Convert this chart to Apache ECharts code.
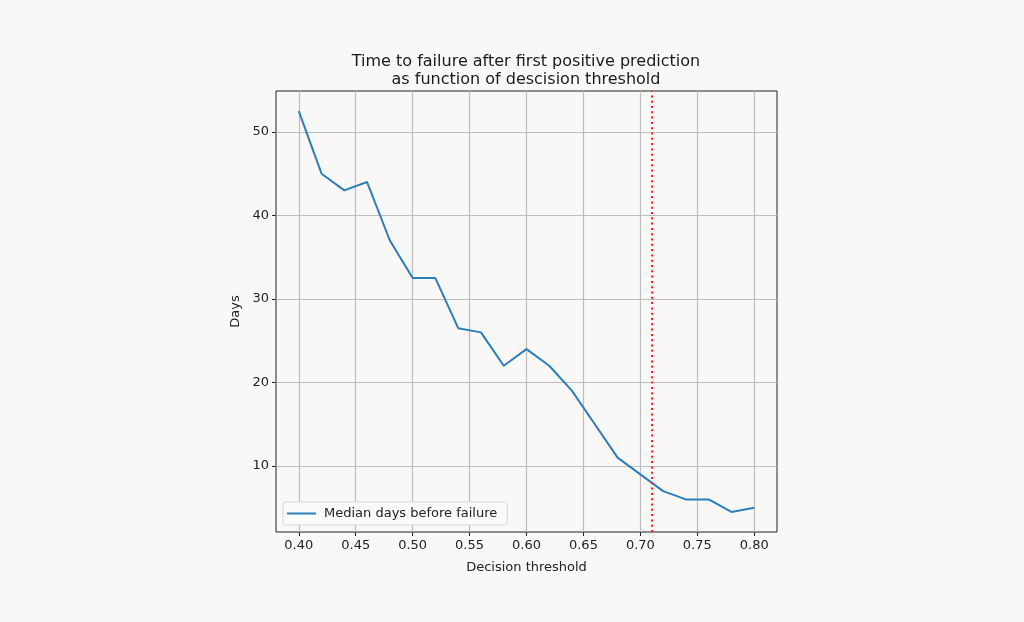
<!DOCTYPE html>
<html>
<head>
<meta charset="utf-8">
<script src="https://cdn.jsdelivr.net/npm/echarts@6/dist/echarts.min.js"></script>
<style>
html,body{margin:0;padding:0;background:#f9f8f6;}
#chart{width:1024px;height:622px;}
</style>
</head>
<body>
<div id="chart"></div>
<script>
const thresholds = [0.40,0.42,0.44,0.46,0.48,0.50,0.52,0.54,0.56,0.58,0.60,0.62,0.64,0.66,0.68,0.70,0.72,0.74,0.76,0.78,0.80];
const medianDays = [52.5,45,43,44,37,32.5,32.5,26.5,26,22,24,22,19,15,11,9,7,6,6,4.5,5];
const xTicks = [0.40,0.45,0.50,0.55,0.60,0.65,0.70,0.75,0.80];
const yTicks = [10,20,30,40,50];
const decisionLine = [0.71];
const seriesName = 'Median days before failure';

const font = 'DejaVu Sans';
const chart = echarts.init(document.getElementById('chart'), null, {renderer:'canvas'});
chart.setOption({
  backgroundColor:'#f9f8f6',
  animation:false,
  title:{
    text:'Time to failure after first positive prediction\nas function of descision threshold',
    left:521, top:48, textAlign:'center',
    textStyle:{fontFamily:font,fontSize:16,fontWeight:'normal',color:'#1a1a1a',lineHeight:18}
  },
  legend:{
    left:283, top:502,
    data:[{name:seriesName, icon:'rect'}],
    itemWidth:29, itemHeight:2, itemGap:8,
    padding:[5,10,5,4],
    backgroundColor:'#fbfaf8', borderColor:'#d6d6d6', borderWidth:1, borderRadius:3,
    textStyle:{fontFamily:font,fontSize:13,color:'#222',padding:[0,0,0,3]}
  },
  grid:{left:276,right:247,top:91,bottom:90,show:true,borderColor:'#222',borderWidth:1,backgroundColor:'#f9f8f6'},
  xAxis:{
    type:'value', min:0.38, max:0.82,
    name:'Decision threshold', nameLocation:'middle', nameGap:29,
    nameTextStyle:{fontFamily:font,fontSize:13,color:'#222'},
    axisLine:{show:false},
    axisTick:{show:true,inside:false,length:4,customValues:xTicks,lineStyle:{color:'#222'}},
    axisLabel:{customValues:xTicks,formatter:v=>v.toFixed(2),fontFamily:font,fontSize:13,color:'#222',margin:7},
    splitLine:{show:true,customValues:xTicks,lineStyle:{color:'#bdbdbd',width:1.2}}
  },
  yAxis:{
    type:'value', min:2.1, max:54.9,
    name:'Days', nameLocation:'middle', nameGap:34, nameRotate:90,
    nameTextStyle:{fontFamily:font,fontSize:13,color:'#222'},
    axisLine:{show:false},
    axisTick:{show:true,inside:false,length:4,customValues:yTicks,lineStyle:{color:'#222'}},
    axisLabel:{customValues:yTicks,fontFamily:font,fontSize:13,color:'#222',margin:7},
    splitLine:{show:true,customValues:yTicks,lineStyle:{color:'#bdbdbd',width:1.2}}
  },
  series:[{
    name:seriesName,
    type:'line',
    data:thresholds.map((t,i)=>[t,medianDays[i]]),
    showSymbol:false,
    lineStyle:{color:'#2a7fbd',width:2},
    itemStyle:{color:'#2a7fbd'},
    markLine:{
      silent:true, symbol:'none', label:{show:false},
      lineStyle:{color:'#ff2020',type:[2,3.3],width:2},
      data:decisionLine.map(v=>({xAxis:v}))
    }
  }]
});
</script>
</body>
</html>
